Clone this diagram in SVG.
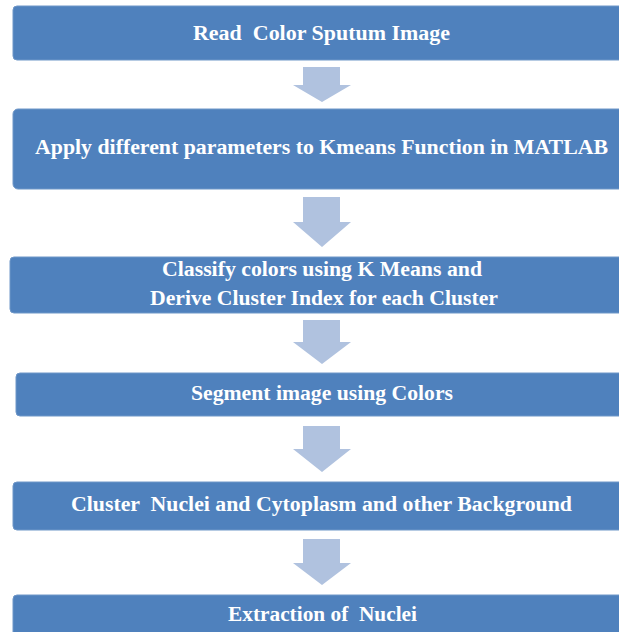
<svg xmlns="http://www.w3.org/2000/svg" width="619" height="632" viewBox="0 0 619 632">
<defs>
<style>
.box{fill:#4F81BD;stroke:#6F97C8;stroke-width:1}
.arr{fill:#B0C2DF}
.t{font-family:"Liberation Serif","Times New Roman",serif;font-weight:bold;font-size:20px;fill:#FFFFFF;white-space:pre}
</style>
</defs>
<rect width="619" height="632" fill="#FFFFFF"/>
<g id="connectors">
<polygon class="arr" points="303,67 340,67 340,85 351,85 322,102 293,85 303,85"/>
<polygon class="arr" points="303,197 340,197 340,222 351,222 322,247 293,222 303,222"/>
<polygon class="arr" points="303,320 340,320 340,342 351,342 322,364 293,342 303,342"/>
<polygon class="arr" points="303,426 340,426 340,449 351,449 322,472 293,449 303,449"/>
<polygon class="arr" points="303,539 340,539 340,563 351,563 322,585 293,563 303,563"/>
</g>
<g id="node1">
<rect class="box" x="13" y="6" width="640" height="54" rx="4"/>
<text class="t" x="193" y="40" textLength="257" lengthAdjust="spacingAndGlyphs" xml:space="preserve">Read  Color Sputum Image</text>
</g>
<g id="node2">
<rect class="box" x="13" y="109" width="640" height="80" rx="5"/>
<text class="t" x="35" y="154" textLength="573" lengthAdjust="spacingAndGlyphs">Apply different parameters to Kmeans Function in MATLAB</text>
</g>
<g id="node3">
<rect class="box" x="10" y="257" width="640" height="56" rx="4"/>
<text class="t" x="162" y="276" textLength="320" lengthAdjust="spacingAndGlyphs">Classify colors using K Means and</text>
<text class="t" x="150" y="305" textLength="348" lengthAdjust="spacingAndGlyphs">Derive Cluster Index for each Cluster</text>
</g>
<g id="node4">
<rect class="box" x="16" y="373" width="640" height="43" rx="4"/>
<text class="t" x="191" y="400" textLength="262" lengthAdjust="spacingAndGlyphs">Segment image using Colors</text>
</g>
<g id="node5">
<rect class="box" x="13" y="482" width="640" height="48" rx="4"/>
<text class="t" x="71" y="511" textLength="501" lengthAdjust="spacingAndGlyphs" xml:space="preserve">Cluster  Nuclei and Cytoplasm and other Background</text>
</g>
<g id="node6">
<rect class="box" x="13" y="595" width="640" height="60" rx="4"/>
<text class="t" x="228" y="621" textLength="189" lengthAdjust="spacingAndGlyphs" xml:space="preserve">Extraction of  Nuclei</text>
</g>
</svg>
